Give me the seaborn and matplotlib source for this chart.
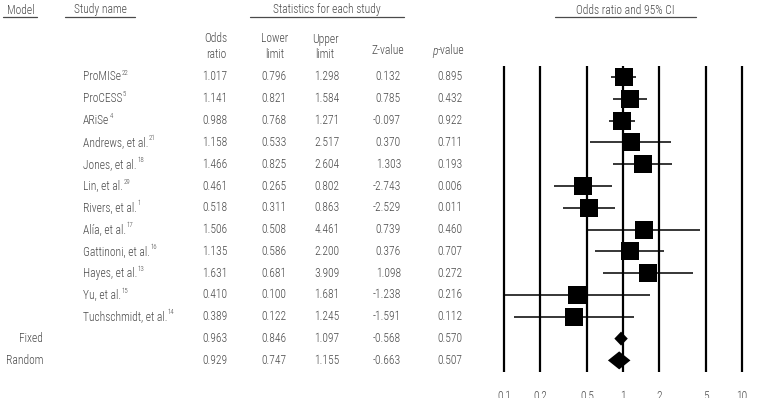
import matplotlib
matplotlib.use('Agg')
import matplotlib.pyplot as plt
import matplotlib.transforms as mtransforms
from matplotlib.lines import Line2D
from matplotlib import font_manager
from matplotlib.font_manager import FontProperties
import seaborn as sns
import numpy as np

# --- data ---
studies = ["ProMISe", "ProCESS", "ARiSe", "Andrews, et al.", "Jones, et al.",
           "Lin, et al.", "Rivers, et al.", "Alía, et al.", "Gattinoni, et al.",
           "Hayes, et al.", "Yu, et al.", "Tuchschmidt, et al."]
refs = ["22", "5", "4", "21", "18", "29", "1", "17", "16", "13", "15", "14"]
odds = [1.017, 1.141, 0.988, 1.158, 1.466, 0.461, 0.518, 1.506, 1.135, 1.631, 0.410, 0.389]
lower = [0.796, 0.821, 0.768, 0.533, 0.825, 0.265, 0.311, 0.508, 0.586, 0.681, 0.100, 0.122]
upper = [1.298, 1.584, 1.271, 2.517, 2.604, 0.802, 0.863, 4.461, 2.200, 3.909, 1.681, 1.245]
zval = [0.132, 0.785, -0.097, 0.370, 1.303, -2.743, -2.529, 0.739, 0.376, 1.098, -1.238, -1.591]
pval = [0.895, 0.432, 0.922, 0.711, 0.193, 0.006, 0.011, 0.460, 0.707, 0.272, 0.216, 0.112]

models = ["Fixed", "Random"]
pooled_odds = [0.963, 0.929]
pooled_lower = [0.846, 0.747]
pooled_upper = [1.097, 1.155]
pooled_z = [-0.568, -0.663]
pooled_p = [0.570, 0.507]

ticks = [0.1, 0.2, 0.5, 1, 2, 5, 10]
tick_labels = ["0.1", "0.2", "0.5", "1", "2", "5", "10"]

# --- style ---
sns.set_theme(style='white')
plt.rcParams['font.family'] = ['Liberation Sans', 'DejaVu Sans']


def find_narrow(italic=False):
    # look for a condensed / narrow sans face among the installed fonts, light weight preferred
    order = ['Liberation', 'Roboto', 'Open Sans', 'Noto Sans', 'Lato', 'Inter', 'DejaVu']
    best, best_score = None, None
    for f in font_manager.fontManager.ttflist:
        nm, fn = f.name, f.fname
        if any(b in nm for b in ('Mono', 'Serif', 'CJK', 'Display')):
            continue
        narrow = ('Narrow' in nm or 'Condensed' in nm or 'Condensed' in fn or 'Narrow' in fn
                  or f.stretch in ('condensed', 'semi-condensed', 'extra-condensed'))
        if not narrow or 'SemiCondensed' in fn or 'ExtraCondensed' in fn:
            continue
        if (f.style != 'normal') != italic:
            continue
        w = f.weight if isinstance(f.weight, int) else 400
        if w not in (300, 400):
            continue
        rank = next((i for i, o in enumerate(order) if o in nm), len(order)) * 2 + (0 if w == 300 else 1)
        if best_score is None or rank < best_score:
            best, best_score = fn, rank
    return best


FS = 8.3
reg_path = find_narrow(False)
ita_path = find_narrow(True)
if reg_path:
    FP = FontProperties(fname=reg_path, size=FS)
else:
    FP = FontProperties(family='Liberation Sans', size=FS - 1)
if ita_path:
    FPI = FontProperties(fname=ita_path, size=FS)
else:
    FPI = FP.copy()
    FPI.set_style('italic')

W, H = 774, 398
TXT = '#4a4a4a'
PITCH = 21.8     # px between rows
ROW0 = 77        # px of first row

fig = plt.figure(figsize=(W / 100, H / 100), dpi=100)
ax = fig.add_axes([504 / W, 0, 238 / W, 1])
ax.set_xscale('log')
ax.set_xlim(0.1, 10)
ax.set_ylim((H - ROW0) / PITCH, -ROW0 / PITCH)
ax.axis('off')

n = len(studies)
rows = np.arange(n)
prow = np.arange(n, n + len(models))

# vertical reference lines
ax.vlines(ticks, (66 - ROW0) / PITCH, (372 - ROW0) / PITCH, color='black', lw=1.6, clip_on=False, zorder=1)

# study CIs and squares
ax.hlines(rows, lower, upper, color='black', lw=1.1, clip_on=False, zorder=2)
sns.scatterplot(x=odds, y=rows, marker='s', s=150, color='black', linewidth=0,
                ax=ax, legend=False, zorder=3, clip_on=False)

# pooled diamonds
for r, est, lo, hi, hh in zip(prow, pooled_odds, pooled_lower, pooled_upper, [7.0, 9.0]):
    h = hh / PITCH
    ax.fill([lo, est, hi, est], [r, r - h, r, r + h], color='black', lw=0, zorder=3)

# table text
tr = mtransforms.blended_transform_factory(fig.transFigure, ax.transData)


def put(xpx, y, s, ha='center', fp=None):
    return ax.text(xpx / W, y, s, transform=tr, ha=ha, va='center',
                   fontproperties=fp or FP, color=TXT)


small = FP.copy()
small.set_size(FS * 0.6)

for i in range(n):
    t = put(83, i, studies[i], ha='left')
    ax.annotate(refs[i], xy=(1, 0.8), xycoords=t, xytext=(0.3, 0), textcoords='offset points',
                ha='left', va='center', fontproperties=small, color=TXT)
    put(215, i, f"{odds[i]:.3f}")
    put(274, i, f"{lower[i]:.3f}")
    put(327, i, f"{upper[i]:.3f}")
    put(401, i, f"{zval[i]:.3f}", ha='right')
    put(450, i, f"{pval[i]:.3f}")

for j, r in enumerate(prow):
    put(43, r, models[j], ha='right')
    put(215, r, f"{pooled_odds[j]:.3f}")
    put(274, r, f"{pooled_lower[j]:.3f}")
    put(327, r, f"{pooled_upper[j]:.3f}")
    put(401, r, f"{pooled_z[j]:.3f}", ha='right')
    put(450, r, f"{pooled_p[j]:.3f}")


# headers (figure pixel coords)
def ftext(xpx, ypx, s, ha='center', fp=None):
    return fig.text(xpx / W, 1 - ypx / H, s, ha=ha, va='center', fontproperties=fp or FP, color=TXT)


def uline(x0, x1, ypx=17):
    fig.add_artist(Line2D([x0 / W, x1 / W], [1 - ypx / H] * 2, color=TXT, lw=0.9))


ftext(21, 10, "Model")
uline(3, 37)
ftext(100, 10, "Study name")
uline(65, 135)
ftext(327, 10, "Statistics for each study")
uline(250, 404)
ftext(625, 10, "Odds ratio and 95% CI")
uline(555, 696)

ftext(216, 39, "Odds")
ftext(216, 54, "ratio")
ftext(275, 39, "Lower")
ftext(275, 54, "limit")
ftext(325, 39, "Upper")
ftext(325, 54, "limit")
ftext(388, 51, "Z-value")
ftext(438, 51, "p", ha='right', fp=FPI)
ftext(438, 51, "-value", ha='left')

# axis tick labels along the bottom (cut by the lower edge, as in the source)
for t, lab in zip(ticks, tick_labels):
    ax.text(t, (397 - ROW0) / PITCH, lab, ha='center', va='center', fontproperties=FP, color=TXT)

fig.savefig('out.png', dpi=100)
